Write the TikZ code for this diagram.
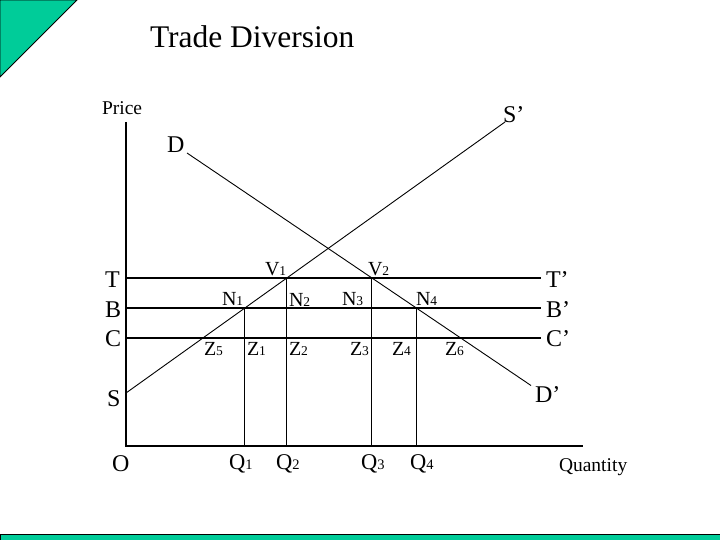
\documentclass[tikz,border=0pt]{standalone}
\usepackage{fontspec}
\setmainfont{Liberation Serif}
\definecolor{tealgreen}{RGB}{0,204,153}
\newcommand{\lblbig}[1]{{\fontsize{24}{24}\selectfont #1}}
\newcommand{\lblsub}[2]{{\fontsize{20}{20}\selectfont #1\fontsize{13.5}{13.5}\selectfont #2}}
\newcommand{\lblq}[2]{{\fontsize{22.5}{22.5}\selectfont #1\fontsize{14.5}{14.5}\selectfont #2}}
\begin{document}
\begin{tikzpicture}[x=1pt,y=-1pt,
  lbl/.style={anchor=base west,inner sep=0pt,outer sep=0pt},
  axisline/.style={line width=1.3pt},
  levelline/.style={line width=1.2pt},
  curveline/.style={line width=0.9pt},
  dropline/.style={line width=1pt}]
\useasboundingbox (0,0) rectangle (720,540);
% decorations
\fill[tealgreen,draw=black,line width=0.8pt] (0,0) -- (77,0) -- (0,77) -- cycle;
\fill[tealgreen,draw=black,line width=0.8pt] (0.4,534) rectangle (720.5,541);
% title
\node[lbl] (title) at (150,48) {\fontsize{31.5}{31.5}\selectfont Trade Diversion};
% key coordinates
\coordinate (O) at (126,446);
\coordinate (Ytop) at (126,122);
\coordinate (Xend) at (583,446);
\coordinate (Sst) at (126,393);
\coordinate (Sen) at (505,122);
\coordinate (Dst) at (187,153);
\coordinate (Den) at (531,385.5);
\coordinate (Tl) at (126,278);
\coordinate (Tr) at (541,278);
\coordinate (Bl) at (126,308);
\coordinate (Br) at (541,308);
\coordinate (Cl) at (126,338);
\coordinate (Cr) at (541,338);
\coordinate (V1) at (intersection of Sst--Sen and Tl--Tr);
\coordinate (N1) at (intersection of Sst--Sen and Bl--Br);
\coordinate (V2) at (intersection of Dst--Den and Tl--Tr);
\coordinate (N4) at (intersection of Dst--Den and Bl--Br);
\coordinate (Q1) at (N1 |- O);
\coordinate (Q2) at (V1 |- O);
\coordinate (Q3) at (V2 |- O);
\coordinate (Q4) at (N4 |- O);
% axes
\draw[axisline] (Ytop) -- (O) -- (Xend);
% level lines
\draw[levelline] (Tl) -- (Tr);
\draw[levelline] (Bl) -- (Br);
\draw[levelline] (Cl) -- (Cr);
% supply and demand
\draw[curveline] (Sst) -- (Sen);
\draw[curveline] (Dst) -- (Den);
% drop lines
\draw[dropline] (N1) -- (Q1);
\draw[dropline] (V1) -- (Q2);
\draw[dropline] (V2) -- (Q3);
\draw[dropline] (N4) -- (Q4);
% axis labels
\node[lbl] (price) at (102,115) {\fontsize{19.5}{19.5}\selectfont Price};
\node[lbl] (quantity) at (559,471) {\fontsize{19.5}{19.5}\selectfont Quantity};
% big letters
\node[lbl] (lT) at (105,287) {\lblbig{T}};
\node[lbl] (lB) at (105,317) {\lblbig{B}};
\node[lbl] (lC) at (105,346) {\lblbig{C}};
\node[lbl] (lS) at (107,406) {\lblbig{S}};
\node[lbl] (lO) at (112,471) {\lblbig{O}};
\node[lbl] (lD) at (167,153) {\lblbig{D}};
\node[lbl] (lTp) at (546,287) {\lblbig{T’}};
\node[lbl] (lBp) at (546,317) {\lblbig{B’}};
\node[lbl] (lCp) at (546,346) {\lblbig{C’}};
\node[lbl] (lSp) at (503,123) {\lblbig{S’}};
\node[lbl] (lDp) at (535,402) {\lblbig{D’}};
% point labels
\node[lbl] (lV1) at (265,275) {\lblsub{V}{1}};
\node[lbl] (lV2) at (368,275) {\lblsub{V}{2}};
\node[lbl] (lN1) at (222,305) {\lblsub{N}{1}};
\node[lbl] (lN2) at (289,306) {\lblsub{N}{2}};
\node[lbl] (lN3) at (342,305) {\lblsub{N}{3}};
\node[lbl] (lN4) at (416,305) {\lblsub{N}{4}};
\node[lbl] (lZ5) at (204,355) {\lblsub{Z}{5}};
\node[lbl] (lZ1) at (247,355) {\lblsub{Z}{1}};
\node[lbl] (lZ2) at (289,355) {\lblsub{Z}{2}};
\node[lbl] (lZ3) at (350,355) {\lblsub{Z}{3}};
\node[lbl] (lZ4) at (392,355) {\lblsub{Z}{4}};
\node[lbl] (lZ6) at (445,355) {\lblsub{Z}{6}};
% quantity labels
\node[lbl] (lQ1) at (229,469) {\lblq{Q}{1}};
\node[lbl] (lQ2) at (276,469) {\lblq{Q}{2}};
\node[lbl] (lQ3) at (361,469) {\lblq{Q}{3}};
\node[lbl] (lQ4) at (410,469) {\lblq{Q}{4}};
\end{tikzpicture}
\end{document}
